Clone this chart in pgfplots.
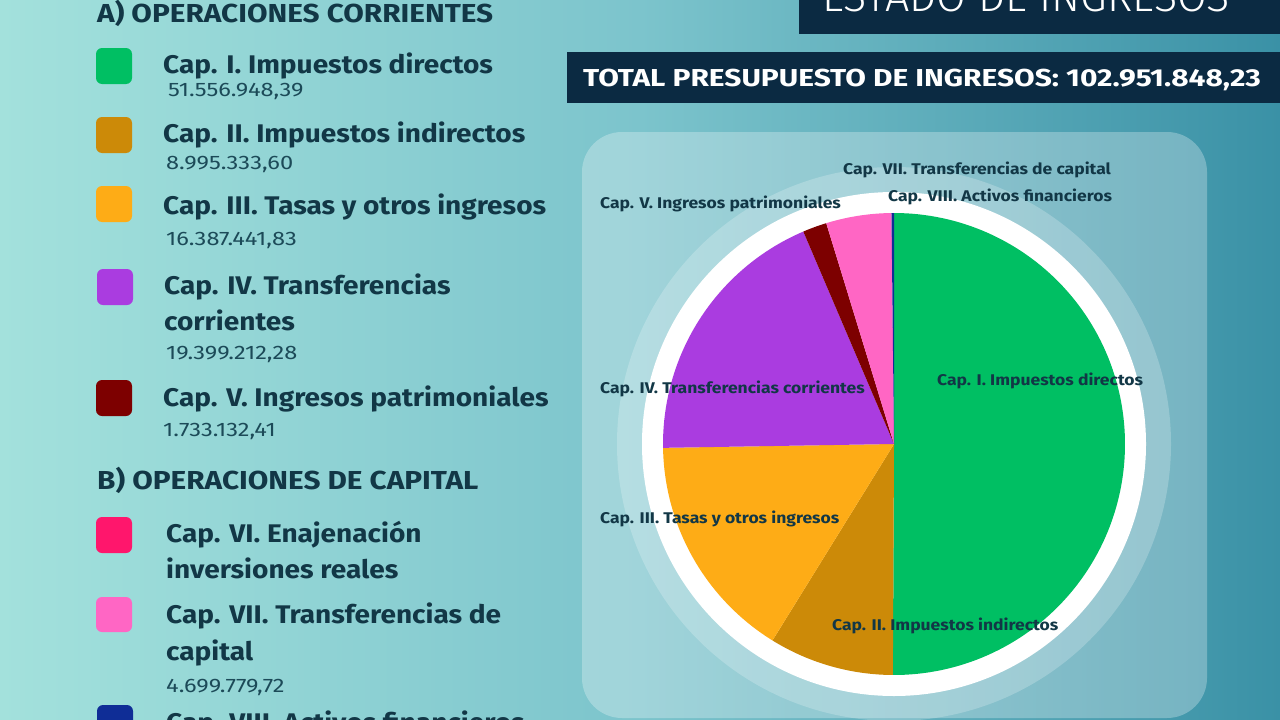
\documentclass[border=0pt]{standalone}
\usepackage{pgfplots}
\pgfplotsset{compat=1.18}
\usepackage{pgfplotstable}
\usepackage{fontspec}
\setmainfont{Fira Sans}
\newfontfamily\fcap[FakeStretch=1.1]{Fira Sans}
\newfontfamily\fhead[FakeStretch=1.145]{Fira Sans}
\newfontfamily\ftot[FakeStretch=1.22]{Fira Sans}
\newfontfamily\fpie[FakeStretch=1.13]{Fira Sans}
\newfontfamily\fval[FakeStretch=1.21]{Fira Sans}
\newfontfamily\flight{Fira Sans Light}

\definecolor{cI}{HTML}{00BF63}
\definecolor{cII}{HTML}{CC8A08}
\definecolor{cIII}{HTML}{FEAC16}
\definecolor{cIV}{HTML}{AA3CE0}
\definecolor{cV}{HTML}{7D0000}
\definecolor{cVI}{HTML}{FF166C}
\definecolor{cVII}{HTML}{FF66C4}
\definecolor{cVIII}{HTML}{0F2D96}
\definecolor{navy}{HTML}{0B2A42}
\definecolor{ink}{HTML}{123746}
\definecolor{inkv}{HTML}{1C4A58}
\definecolor{bgL}{HTML}{A3E1DC}
\definecolor{bgM}{HTML}{7CC4CC}
\definecolor{bgR}{HTML}{3A91A6}

% Presupuesto de ingresos (millones de euros)
\pgfplotstableread{
cap value
I    51.55694839
II   8.99533360
III  16.38744183
IV   19.39921228
V    1.73313241
VI   0
VII  4.69977972
VIII 0.18
}\ingresos

\pgfplotstablegetelem{0}{value}\of\ingresos \let\vI\pgfplotsretval
\pgfplotstablegetelem{1}{value}\of\ingresos \let\vII\pgfplotsretval
\pgfplotstablegetelem{2}{value}\of\ingresos \let\vIII\pgfplotsretval
\pgfplotstablegetelem{3}{value}\of\ingresos \let\vIV\pgfplotsretval
\pgfplotstablegetelem{4}{value}\of\ingresos \let\vV\pgfplotsretval
\pgfplotstablegetelem{5}{value}\of\ingresos \let\vVI\pgfplotsretval
\pgfplotstablegetelem{6}{value}\of\ingresos \let\vVII\pgfplotsretval
\pgfplotstablegetelem{7}{value}\of\ingresos \let\vVIII\pgfplotsretval
\pgfmathsetmacro\tot{\vI+\vII+\vIII+\vIV+\vV+\vVI+\vVII+\vVIII}
\pgfmathsetmacro\aI{90-\vI/\tot*360}
\pgfmathsetmacro\aII{\aI-\vII/\tot*360}
\pgfmathsetmacro\aIII{\aII-\vIII/\tot*360}
\pgfmathsetmacro\aIV{\aIII-\vIV/\tot*360}
\pgfmathsetmacro\aV{\aIV-\vV/\tot*360}
\pgfmathsetmacro\aVI{\aV-\vVI/\tot*360}
\pgfmathsetmacro\aVII{\aVI-\vVII/\tot*360}
\pgfmathsetmacro\aVIII{\aVII-\vVIII/\tot*360}
% pie centre and radius (picture units)
\def\cx{894}\def\cy{-444}\def\R{231}

\begin{document}
\begin{tikzpicture}[x=1pt,y=1pt,
  lt/.style={anchor=base west,inner sep=0pt,text=ink,font=\fcap\bfseries\fontsize{25.5}{30}\selectfont},
  lh/.style={anchor=base west,inner sep=0pt,text=ink,font=\fhead\bfseries\fontsize{26}{30}\selectfont},
  lv/.style={anchor=base west,inner sep=0pt,text=inkv,font=\fval\fontsize{19.5}{22}\selectfont},
  pl/.style={anchor=base west,inner sep=0pt,text=ink,font=\fpie\bfseries\fontsize{15.5}{18}\selectfont}]
\useasboundingbox (0,0) rectangle (1280,-720);
\clip (0,0) rectangle (1280,-720);
% background
\shade[left color=bgL,right color=bgR,middle color=bgM] (0,0) rectangle (1280,-720);
% title boxes
\fill[navy] (799,40) rectangle (1290,-34);
\node[anchor=base west,inner sep=0pt,text=white,font=\flight\fontsize{43}{46}\selectfont] at (822,-11) {ESTADO DE INGRESOS};
\fill[navy] (567,-52) rectangle (1290,-103);
\node[anchor=base west,inner sep=0pt,text=white,font=\ftot\bfseries\fontsize{24.5}{28}\selectfont] at (583,-86) {TOTAL PRESUPUESTO DE INGRESOS: 102.951.848,23};
% panel
\fill[white,opacity=0.28,rounded corners=40pt] (582,-132) rectangle (1207,-718);
\fill[white,opacity=0.22] (\cx,\cy) circle (277);
\fill[white] (\cx,\cy) circle (252);

\begin{axis}[at={(0,-720)},anchor=south west,scale only axis,width=1280pt,height=720pt,
  xmin=0,xmax=1280,ymin=-720,ymax=0,hide axis,clip=false]
\addplot[fill=cI,draw=none,domain=\aI:90,samples=120,variable=\t]({\cx+\R*cos(\t)},{\cy+\R*sin(\t)}) -- (\cx,\cy) -- cycle;
\addplot[fill=cII,draw=none,domain=\aII:\aI,samples=40,variable=\t]({\cx+\R*cos(\t)},{\cy+\R*sin(\t)}) -- (\cx,\cy) -- cycle;
\addplot[fill=cIII,draw=none,domain=\aIII:\aII,samples=60,variable=\t]({\cx+\R*cos(\t)},{\cy+\R*sin(\t)}) -- (\cx,\cy) -- cycle;
\addplot[fill=cIV,draw=none,domain=\aIV:\aIII,samples=60,variable=\t]({\cx+\R*cos(\t)},{\cy+\R*sin(\t)}) -- (\cx,\cy) -- cycle;
\addplot[fill=cV,draw=none,domain=\aV:\aIV,samples=10,variable=\t]({\cx+\R*cos(\t)},{\cy+\R*sin(\t)}) -- (\cx,\cy) -- cycle;
\addplot[fill=cVII,draw=none,domain=\aVII:\aVI,samples=20,variable=\t]({\cx+\R*cos(\t)},{\cy+\R*sin(\t)}) -- (\cx,\cy) -- cycle;
\addplot[fill=cVIII,draw=none,domain=\aVIII:\aVII,samples=5,variable=\t]({\cx+\R*cos(\t)},{\cy+\R*sin(\t)}) -- (\cx,\cy) -- cycle;
\end{axis}

% pie labels
\node[pl] at (843,-174) {Cap. VII. Transferencias de capital};
\node[pl] at (888,-201) {Cap. VIII. Activos financieros};
\node[pl] at (600,-208) {Cap. V. Ingresos patrimoniales};
\node[pl] at (600,-393) {Cap. IV. Transferencias corrientes};
\node[pl] at (937,-385) {Cap. I. Impuestos directos};
\node[pl] at (600,-523) {Cap. III. Tasas y otros ingresos};
\node[pl] at (832,-630) {Cap. II. Impuestos indirectos};

% legend
\node[lh] at (97,-23) {A) OPERACIONES CORRIENTES};
\fill[cI,rounded corners=6pt] (96,-48) rectangle (132,-84);
\node[lt] at (163,-73) {Cap. I. Impuestos directos};
\node[lv] at (168,-96) {51.556.948,39};
\fill[cII,rounded corners=6pt] (96,-117) rectangle (132,-153);
\node[lt] at (163,-142) {Cap. II. Impuestos indirectos};
\node[lv] at (166,-169) {8.995.333,60};
\fill[cIII,rounded corners=6pt] (96,-186) rectangle (132,-222);
\node[lt] at (163,-214) {Cap. III. Tasas y otros ingresos};
\node[lv] at (166,-245) {16.387.441,83};
\fill[cIV,rounded corners=6pt] (97,-269) rectangle (133,-305);
\node[lt] at (164,-294) {Cap. IV. Transferencias};
\node[lt] at (164,-330) {corrientes};
\node[lv] at (166,-359) {19.399.212,28};
\fill[cV,rounded corners=6pt] (96,-380) rectangle (132,-416);
\node[lt] at (163,-406) {Cap. V. Ingresos patrimoniales};
\node[lv] at (163,-436) {1.733.132,41};
\node[lh] at (97,-489) {B) OPERACIONES DE CAPITAL};
\fill[cVI,rounded corners=6pt] (96,-517) rectangle (132,-553);
\node[lt] at (166,-542) {Cap. VI. Enajenación};
\node[lt] at (166,-578) {inversiones reales};
\fill[cVII,rounded corners=6pt] (96,-597) rectangle (132,-632);
\node[lt] at (166,-623) {Cap. VII. Transferencias de};
\node[lt] at (166,-660) {capital};
\node[lv] at (166,-692) {4.699.779,72};
\fill[cVIII,rounded corners=6pt] (97,-705) rectangle (133,-741);
\node[lt] at (166,-731) {Cap. VIII. Activos financieros};
\end{tikzpicture}
\end{document}
